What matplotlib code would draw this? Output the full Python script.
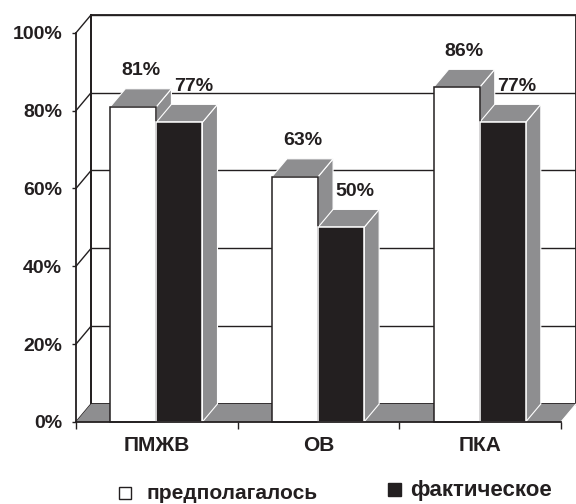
import matplotlib as mpl
mpl.use('Agg')
import matplotlib.pyplot as plt
from matplotlib.patches import Polygon, Rectangle

plt.rcParams['font.family'] = ['Liberation Sans', 'DejaVu Sans']

categories = ['ПМЖВ', 'ОВ', 'ПКА']
planned = [81, 63, 86]      # предполагалось
actual = [77, 50, 77]       # фактическое
yticks = [0, 20, 40, 60, 80, 100]
legend_labels = ['предполагалось', 'фактическое']

ink = '#231f20'
gray = '#8e8e90'
dx = 0.093   # depth offset in category units
dy = 4.6     # depth offset in percent units

fig = plt.figure(figsize=(5.76, 5.04), dpi=100)
ax = fig.add_axes([0.132, 0.163, 0.842, 0.772])
ax.set_xlim(0, len(categories))
ax.set_ylim(0, 100)

n = len(categories)

# back wall
ax.add_patch(Rectangle((dx, dy), n, 100, facecolor='white', edgecolor=ink,
                       lw=1.3, clip_on=False, zorder=1))
# grid on the back wall and the left wall
for v in yticks:
    ax.plot([dx, n + dx], [v + dy, v + dy], color=ink, lw=1.0, clip_on=False, zorder=2)
    ax.plot([0, dx], [v, v + dy], color=ink, lw=1.0, clip_on=False, zorder=2)
ax.plot([dx, dx], [dy, 100 + dy], color=ink, lw=1.3, clip_on=False, zorder=2)

# floor
ax.add_patch(Polygon([(0, 0), (n, 0), (n + dx, dy), (dx, dy)], closed=True,
                     facecolor=gray, edgecolor='none', clip_on=False, zorder=3))
ax.plot([n, n + dx], [0, dy], color='white', lw=0.8, clip_on=False, zorder=3)


def bar3d(x0, w, h, face, edge, shift):
    x1 = x0 + w
    ax.add_patch(Polygon([(x1, 0), (x1 + dx, dy), (x1 + dx, h + dy), (x1, h)],
                         closed=True, facecolor=gray, edgecolor='white', lw=0.8,
                         clip_on=False, zorder=4))
    ax.add_patch(Polygon([(x0, h), (x1, h), (x1 + dx, h + dy), (x0 + dx, h + dy)],
                         closed=True, facecolor=gray, edgecolor='white', lw=0.8,
                         clip_on=False, zorder=4))
    ax.add_patch(Rectangle((x0, 0), w, h, facecolor=face, edgecolor=edge,
                           lw=1.1, clip_on=False, zorder=5))
    ax.text(x0 + w / 2 + dx / 2 + shift, h + dy + 2.4, f'{h}%', ha='center',
            va='bottom', fontsize=14, fontweight='bold', color=ink, zorder=6)


w = 0.285
for i in range(n):
    bar3d(i + 0.212, w, planned[i], 'white', ink, 0.0)
    bar3d(i + 0.497, w, actual[i], ink, 'white', 0.04)

# axes
for s in ['top', 'right']:
    ax.spines[s].set_visible(False)
for s in ['left', 'bottom']:
    ax.spines[s].set_color(ink)
    ax.spines[s].set_linewidth(1.3)
    ax.spines[s].set_zorder(7)

ax.set_yticks(yticks)
ax.set_yticklabels([f'{v}%' for v in yticks], fontsize=14, fontweight='bold', color=ink)
ax.tick_params(axis='y', length=3, width=1, color=ink, pad=7)
ax.set_xticks(range(n + 1))
ax.set_xticklabels([''] * (n + 1))
ax.set_xticks([i + 0.5 for i in range(n)], minor=True)
ax.set_xticklabels(categories, minor=True, fontsize=15, fontweight='bold', color=ink)
ax.tick_params(axis='x', which='major', length=5, width=1, color=ink)
ax.tick_params(axis='x', which='minor', length=0, pad=10)

# legend
fig.patches.append(Rectangle((119 / 576, 1 - 499 / 504), 12 / 576, 12 / 504,
                             transform=fig.transFigure, facecolor='white',
                             edgecolor=ink, lw=1))
fig.text(147 / 576, 1 - 499 / 504, legend_labels[0], fontsize=15, fontweight='bold',
         color=ink, va='baseline')
fig.patches.append(Rectangle((388 / 576, 1 - 496 / 504), 13 / 576, 13 / 504,
                             transform=fig.transFigure, facecolor=ink,
                             edgecolor=ink, lw=1))
fig.text(410 / 576, 1 - 496 / 504, legend_labels[1], fontsize=16, fontweight='bold',
         color=ink, va='baseline')

fig.savefig('out.png', dpi=100)
